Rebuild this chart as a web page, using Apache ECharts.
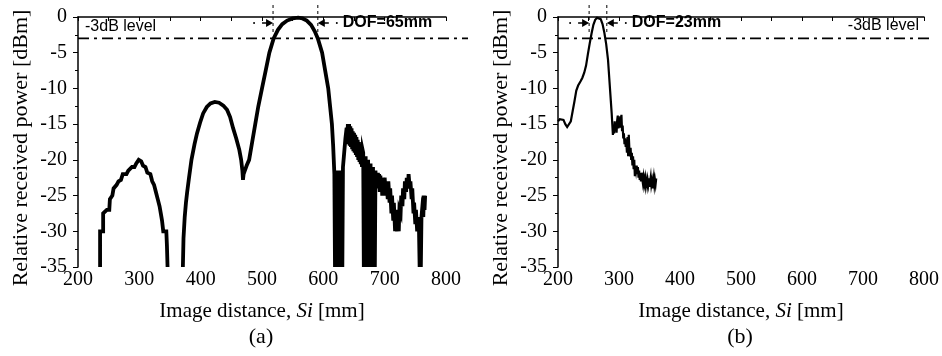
<!DOCTYPE html>
<html>
<head>
<meta charset="utf-8">
<script src="https://cdn.jsdelivr.net/npm/echarts@6/dist/echarts.min.js"></script>
<style>html,body{margin:0;padding:0;background:#fff}#c{width:942px;height:356px}</style>
</head>
<body>
<div id="c"></div>
<script>
// ---- data ----
const xTicks = [200, 300, 400, 500, 600, 700, 800];
const yTicks = [0, -5, -10, -15, -20, -25, -30, -35];
const panelLabels = ['(a)', '(b)'];
const dofA = [518, 591];
const dofB = [251, 280];
const dofTextA = 'DOF=65mm';
const dofTextB = 'DOF=23mm';
const levelText = '-3dB level';
const levelValue = -3;

const seriesA1 = [[236,-35],[236,-30],[241,-30],[241,-27.5],[247,-27],[251,-27],[252,-25.5],[256,-25],[258,-24],[263,-23.5],[266,-23],[270,-22.8],[273,-22],[279,-22],[282,-21.5],[288,-21],[292,-21],[295,-20.5],[299,-20],[303,-20.2],[306,-20.8],[310,-21],[313,-21.8],[318,-22],[321,-23],[324,-23.5],[327,-24.5],[330,-25.5],[333,-26.5],[335,-27.5],[337,-28.5],[339,-30],[344,-30],[345,-32],[346,-35]];

const seriesA2 = [[371,-35],[372,-31],[374,-28],[376,-26],[378,-24.5],[381,-22.5],[385,-20],[390,-17.8],[394,-16.3],[399,-14.8],[404,-13.5],[410,-12.6],[416,-12.1],[423,-11.9],[430,-12],[437,-12.4],[443,-13],[448,-14],[453,-15.6],[458,-17],[463,-18.6],[466,-20],[468,-21.5],[469,-22.8],[470,-22],[472,-21.5],[475,-20.8],[479,-20],[484,-17.5],[489,-15],[494,-12.5],[500,-10],[506,-7.5],[512,-5],[519,-3],[526,-1.8],[533,-1],[541,-0.5],[550,-0.2],[559,-0.1],[566,-0.2],[573,-0.5],[580,-1.1],[586,-2],[591,-3],[598,-5],[603,-7.5],[608,-10],[611,-12.5],[614,-15],[616,-18],[617,-20],[618,-22],
[619,-35],[620,-23],[621,-35],[622,-21.5],[623,-35],[624,-22],[625,-35],[626,-22.5],[627,-35],[628,-21.5],[629,-35],[630,-22],[631,-35],[632,-21],[634,-19],[636,-17],[638,-15.5],[639,-17.5],[640,-15],[641,-17.8],[642,-15],[643,-18],[644,-15.3],[645,-18.2],[646,-15.6],[647,-18.5],[648,-16],[649,-18.8],[650,-16.2],[651,-19],[652,-16.5],[653,-19.3],[654,-16.8],[655,-19.6],[656,-17.2],[657,-20],[658,-17.5],[659,-20.3],[660,-18],[661,-20.6],[662,-18.3],[663,-21],[664,-18.6],[665,-19],[666,-35],[667,-19.5],[668,-35],[669,-19.5],[670,-35],[671,-20],[672,-35],[673,-20],[674,-35],[675,-20.5],[676,-35],[677,-20.5],[678,-35],[679,-21],[680,-35],[681,-21],[682,-35],[683,-21.5],[684,-35],[685,-21.5],[686,-23.5],[687,-21.8],[688,-24],[689,-21.8],[690,-24],[691,-22],[692,-24.5],[693,-22.2],[694,-24.5],[695,-22.5],[696,-25],[697,-22.5],[699,-25],[700,-22.5],[702,-25],[703,-23],[705,-25.5],[706,-23],[708,-26],[709,-24],[711,-27.5],[712,-25],[714,-28.5],[715,-26],[717,-30],[718,-27],[720,-30],[721,-28],[723,-30],[724,-27],[726,-27.5],[727,-25],[729,-26.5],[730,-24],[732,-25.5],[733,-23],[735,-24.5],[736,-22.5],[738,-24],[739,-22],[741,-24],[742,-23],[744,-25.5],[745,-24],[747,-27.5],[748,-26],[750,-29],[751,-27],[753,-30],[754,-28],[756,-30],[757,-35],[758,-29],[759,-35],[760,-28],[761,-27],[763,-28],[764,-25],[765,-27],[766,-25]];

const seriesB = [[200,-14.6],[203,-14.3],[206,-14.1],[209,-14.4],[212,-15],[215,-15.4],[218,-15.4],[221,-14.6],[224,-13.2],[227,-11.8],[230,-10.3],[233,-9.6],[237,-9],[240,-8.5],[243,-7.8],[246,-6.8],[249,-5.2],[252,-3.7],[255,-2.3],[258,-1.1],[261,-0.4],[264,-0.1],[267,0],[270,-0.3],[273,-1],[276,-2.2],[279,-3.8],[282,-6],[284,-8.5],[286,-11],[288,-13.5],[289,-15],[290,-16.5],[291,-15.5],[292,-16.3],[293,-14.6],[294,-15.8],[295,-15],[296,-16.2],[297,-14.5],[298,-13.8],[299,-15.6],[300,-14.2],[301,-15.5],[302,-13.9],[303,-14.5],[304,-13.7],[305,-16],[306,-15.2],[307,-17],[308,-16.3],[309,-17.8],[310,-17],[311,-18.2],[312,-17.5],[313,-19],[314,-16.8],[315,-19.5],[316,-16.5],[317,-18.5],[318,-19.5],[319,-18.3],[320,-20],[321,-19],[322,-20.8],[323,-19.5],[324,-21.3],[325,-20],[326,-22.3],[327,-20.8],[328,-21.5],[329,-20.8],[330,-22],[331,-21],[332,-22.5],[333,-21.5],[334,-22.8],[335,-22],[336,-23],[337,-21.8],[338,-22.6],[339,-23.2],[340,-22.5],[341,-23.4],[342,-22.8],[343,-23.5],[344,-22.5],[345,-23],[346,-23.6],[347,-22.8],[348,-23.4],[349,-22.6],[350,-23.8],[351,-23],[352,-22.4],[353,-23.5],[354,-23],[355,-24],[356,-23.2],[357,-22.5],[358,-23.5],[359,-22.8],[360,-23.4],[361,-22.6]];

// ---- chart ----
const serif = 'Liberation Serif';
const chart = echarts.init(document.getElementById('c'), null, {renderer: 'canvas'});

function xAxisCfg(gi) {
  return {
    type: 'value', gridIndex: gi, min: xTicks[0], max: xTicks[xTicks.length - 1], interval: 100,
    axisLine: {lineStyle: {color: '#000', width: 1.5}},
    axisTick: {show: true, length: 4, lineStyle: {color: '#000', width: 1}},
    minorTick: {show: true, splitNumber: 2, length: 4, lineStyle: {color: '#000', width: 1}},
    splitLine: {show: false}, minorSplitLine: {show: false},
    axisLabel: {color: '#000', fontFamily: serif, fontSize: 20, margin: 3},
    name: 'Image distance, {i|Si} [mm]', nameLocation: 'middle', nameGap: 34,
    nameTextStyle: {color: '#000', fontFamily: serif, fontSize: 21,
      rich: {i: {fontStyle: 'italic', fontFamily: serif, fontSize: 21, color: '#000'}}}
  };
}
function yAxisCfg(gi) {
  return {
    type: 'value', gridIndex: gi, min: yTicks[yTicks.length - 1], max: yTicks[0], interval: 5,
    axisLine: {show: true, lineStyle: {color: '#000', width: 1.5}},
    axisTick: {show: true, length: 5, lineStyle: {color: '#000', width: 1}},
    minorTick: {show: true, splitNumber: 2, length: 3, lineStyle: {color: '#000', width: 1}},
    splitLine: {show: false}, minorSplitLine: {show: false},
    axisLabel: {color: '#000', fontFamily: serif, fontSize: 20, margin: 11},
    name: 'Relative received power [dBm]', nameLocation: 'middle', nameGap: 46,
    nameTextStyle: {color: '#000', fontFamily: serif, fontSize: 22, padding: [0, 12, 0, 0]}
  };
}
function lineSeries(gi, data, w) {
  return {
    type: 'line', xAxisIndex: gi, yAxisIndex: gi, data: data, showSymbol: false,
    symbol: 'none', animation: false, clip: true,
    lineStyle: {color: '#000', width: w, join: 'miter'}
  };
}

chart.setOption({
  backgroundColor: '#fff',
  animation: false,
  grid: [
    {left: 78, top: 17, width: 368, height: 250, containLabel: false},
    {left: 558, top: 17, width: 368, height: 250, containLabel: false}
  ],
  xAxis: [xAxisCfg(0), xAxisCfg(1)],
  yAxis: [yAxisCfg(0), yAxisCfg(1)],
  series: [
    lineSeries(0, seriesA1, 3.8),
    lineSeries(0, seriesA2, 3.8),
    lineSeries(1, seriesB, 2.2)
  ]
});

function annotations(gi, dof, dofText, levelTextPos, labelText) {
  const els = [];
  const p0 = chart.convertToPixel({gridIndex: gi}, [xTicks[0], levelValue]);
  const pEnd = chart.convertToPixel({gridIndex: gi}, [xTicks[xTicks.length - 1], levelValue]);
  const pTop = chart.convertToPixel({gridIndex: gi}, [xTicks[0], 0]);
  const pBot = chart.convertToPixel({gridIndex: gi}, [xTicks[0], -35]);
  const y3 = p0[1];
  els.push({type: 'line', shape: {x1: p0[0], y1: y3, x2: pEnd[0] + (gi === 0 ? 22 : 7), y2: y3},
    style: {stroke: '#000', lineWidth: 1.8, lineDash: [11, 5, 3, 5]}, z: 10});
  const lt = levelTextPos === 'left'
    ? {x: p0[0] + 7, y: pTop[1] + 10, align: 'left'}
    : {x: pEnd[0] - 5, y: pTop[1] + 9, align: 'right'};
  els.push({type: 'text', x: lt.x, y: lt.y, style: {text: levelText, fill: '#000', font: '16px "Liberation Sans"',
    align: lt.align, verticalAlign: 'middle'}, z: 10});
  const xa = chart.convertToPixel({gridIndex: gi}, [dof[0], 0])[0];
  const xb = chart.convertToPixel({gridIndex: gi}, [dof[1], 0])[0];
  const ay = pTop[1] + 6;
  [xa, xb].forEach(function (x) {
    els.push({type: 'line', shape: {x1: x, y1: pTop[1] - 12, x2: x, y2: pTop[1] + 15},
      style: {stroke: '#000', lineWidth: 1, lineDash: [3, 3]}, z: 10});
  });
  els.push({type: 'line', shape: {x1: xa - 11, y1: ay, x2: xa - 3, y2: ay}, style: {stroke: '#000', lineWidth: 1.5}, z: 10});
  els.push({type: 'polygon', shape: {points: [[xa, ay], [xa - 7, ay - 4], [xa - 7, ay + 4]]}, style: {fill: '#000'}, z: 10});
  els.push({type: 'circle', shape: {cx: xa - 19, cy: ay, r: 1}, style: {fill: '#000'}, z: 10});
  els.push({type: 'line', shape: {x1: xb + 3, y1: ay, x2: xb + 11, y2: ay}, style: {stroke: '#000', lineWidth: 1.5}, z: 10});
  els.push({type: 'polygon', shape: {points: [[xb, ay], [xb + 7, ay - 4], [xb + 7, ay + 4]]}, style: {fill: '#000'}, z: 10});
  els.push({type: 'circle', shape: {cx: xb + 19, cy: ay, r: 1}, style: {fill: '#000'}, z: 10});
  els.push({type: 'text', x: xb + 25, y: ay, style: {text: dofText, fill: '#000', font: 'bold 16px "Liberation Sans"',
    align: 'left', verticalAlign: 'middle'}, z: 10});
  const cx = (p0[0] + pEnd[0]) / 2;
  els.push({type: 'text', x: cx - 1, y: pBot[1] + 70, style: {text: labelText, fill: '#000', font: '22px "Liberation Serif"',
    align: 'center', verticalAlign: 'middle'}, z: 10});
  return els;
}

chart.setOption({
  graphic: annotations(0, dofA, dofTextA, 'left', panelLabels[0])
    .concat(annotations(1, dofB, dofTextB, 'right', panelLabels[1]))
});
</script>
</body>
</html>
